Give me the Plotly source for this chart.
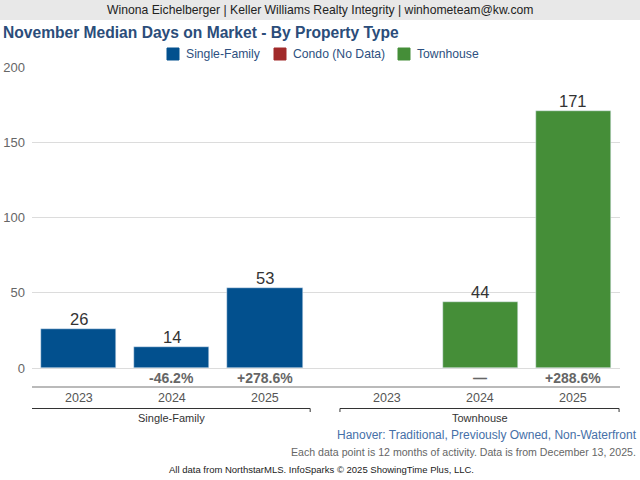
import plotly.graph_objects as go

# ---- data ----
groups = ["Single-Family", "Townhouse"]
years = ["2023", "2024", "2025"]
single_family = [26, 14, 53]
townhouse = [None, 44, 171]
sf_change = ["", "-46.2%", "+278.6%"]
th_change = ["", "—", "+288.6%"]
legend_names = ["Single-Family", "Condo (No Data)", "Townhouse"]
y_ticks = [0, 50, 100, 150, 200]

# ---- layout constants ----
W, H = 640, 480
L, R, T, B = 32, 20, 67, 112
PW, PH = W - L - R, H - T - B
GAP = 0.32
FONT = "Liberation Sans, Arial, sans-serif"
C_SF = "#02508e"
C_CONDO = "#a12a2a"
C_TH = "#458e38"
colors = [C_SF, C_CONDO, C_TH]

def px_x(px):
    return (px - L) / PW

def px_y(py):
    return (H - B - py) / PH

sf_x = [i for i in range(len(years))]
th_x = [len(years) + GAP + i for i in range(len(years))]

fig = go.Figure()
bar_w = 0.815
fig.add_trace(go.Bar(x=sf_x, y=single_family, name=legend_names[0], marker_color=C_SF, width=bar_w))
fig.add_trace(go.Bar(x=[None], y=[None], name=legend_names[1], marker_color=C_CONDO, width=bar_w))
fig.add_trace(go.Bar(x=th_x, y=townhouse, name=legend_names[2], marker_color=C_TH, width=bar_w))

ann = []
shapes = []
# value labels
for xs, vals in ((sf_x, single_family), (th_x, townhouse)):
    for x, v in zip(xs, vals):
        if v is None:
            continue
        ann.append(dict(text=str(v), x=x, y=v, xref="x", yref="y", yanchor="bottom", yshift=-1,
                        showarrow=False, font=dict(size=16.5, color="#333", family=FONT)))

# header band
shapes.append(dict(type="rect", xref="paper", yref="paper", x0=px_x(0), x1=px_x(W),
                   y0=px_y(20), y1=px_y(0), fillcolor="#e8e8e8", line_width=0, layer="below"))
ann.append(dict(text="Winona Eichelberger | Keller Williams Realty Integrity | winhometeam@kw.com",
                xref="paper", yref="paper", x=px_x(320), y=px_y(10), xanchor="center", yanchor="middle",
                showarrow=False, font=dict(size=12.2, color="#222", family=FONT)))
ann.append(dict(text="<b>November Median Days on Market - By Property Type</b>",
                xref="paper", yref="paper", x=px_x(1), y=px_y(33), xanchor="left", yanchor="middle",
                showarrow=False, font=dict(size=15.6, color="#2b4d7a", family=FONT)))

# manual legend
leg_sq = [167, 274, 398]
for sx, name, col in zip(leg_sq, legend_names, colors):
    x0, x1 = px_x(sx), px_x(sx + 12)
    y0, y1 = px_y(60), px_y(48)
    shapes.append(dict(type="rect", xref="paper", yref="paper", x0=x0, x1=x1, y0=y0, y1=y1,
                       fillcolor=col, line=dict(color=col, width=1)))
    ann.append(dict(text=name, xref="paper", yref="paper", x=px_x(sx + 17), y=px_y(54),
                    xanchor="left", yanchor="middle", showarrow=False,
                    font=dict(size=12.2, color="#2d5080", family=FONT)))

# change row, year labels
for xs, ch in ((sf_x, sf_change), (th_x, th_change)):
    for x, c, yr in zip(xs, ch, years):
        if c:
            ann.append(dict(text=f"<b>{c}</b>", x=x, xref="x", yref="paper", y=px_y(378),
                            yanchor="middle", showarrow=False,
                            font=dict(size=14, color="#666", family=FONT)))
        ann.append(dict(text=yr, x=x, xref="x", yref="paper", y=px_y(398), yanchor="middle",
                        showarrow=False, font=dict(size=12.5, color="#555", family=FONT)))

# separator line
shapes.append(dict(type="line", xref="paper", yref="paper", x0=0, x1=1, y0=px_y(387), y1=px_y(387),
                   line=dict(color="#777", width=1.2)))
# brackets
for xs, g in ((sf_x, groups[0]), (th_x, groups[1])):
    x0, x1 = xs[0] - 0.51, xs[-1] + 0.49
    yb = px_y(408.5)
    yt = px_y(412)
    shapes.append(dict(type="line", xref="x", yref="paper", x0=x0, x1=x1, y0=yb, y1=yb,
                       line=dict(color="#333", width=1)))
    for xe in (x0, x1):
        shapes.append(dict(type="line", xref="x", yref="paper", x0=xe, x1=xe, y0=yb, y1=yt,
                           line=dict(color="#333", width=1)))
    ann.append(dict(text=g, x=(xs[0] + xs[-1]) / 2, xref="x", yref="paper", y=px_y(418),
                    yanchor="middle", showarrow=False, font=dict(size=11, color="#333", family=FONT)))

# footer
ann.append(dict(text="Hanover: Traditional, Previously Owned, Non-Waterfront", xref="paper", yref="paper",
                x=px_x(639), y=px_y(435), xanchor="right", yanchor="middle", showarrow=False,
                font=dict(size=12, color="#4670a8", family=FONT)))
ann.append(dict(text="Each data point is 12 months of activity. Data is from December 13, 2025.",
                xref="paper", yref="paper", x=px_x(638), y=px_y(452), xanchor="right", yanchor="middle",
                showarrow=False, font=dict(size=10.6, color="#666", family=FONT)))
ann.append(dict(text="All data from NorthstarMLS. InfoSparks © 2025 ShowingTime Plus, LLC.",
                xref="paper", yref="paper", x=px_x(321), y=px_y(469), xanchor="center", yanchor="middle",
                showarrow=False, font=dict(size=9.5, color="#222", family=FONT)))

fig.update_layout(
    width=W, height=H, margin=dict(l=L, r=R, t=T, b=B, autoexpand=False),
    paper_bgcolor="white", plot_bgcolor="white",
    font=dict(family=FONT),
    showlegend=False,
    xaxis=dict(range=[-0.5, th_x[-1] + 0.5], showticklabels=False, showgrid=False, zeroline=False,
               fixedrange=True, automargin=False),
    yaxis=dict(range=[0, 200], tickvals=y_ticks, showgrid=True, gridcolor="#dcdcdc", gridwidth=1,
               zeroline=True, zerolinecolor="#dcdcdc", zerolinewidth=1, automargin=False,
               tickfont=dict(size=13, color="#666", family=FONT), ticks="", ticklabelstandoff=6),
    annotations=ann, shapes=shapes, bargap=0,
)
fig.write_html("out.html", config={"displayModeBar": False},
               post_script="document.body.style.margin='0';document.body.style.overflow='hidden';")
